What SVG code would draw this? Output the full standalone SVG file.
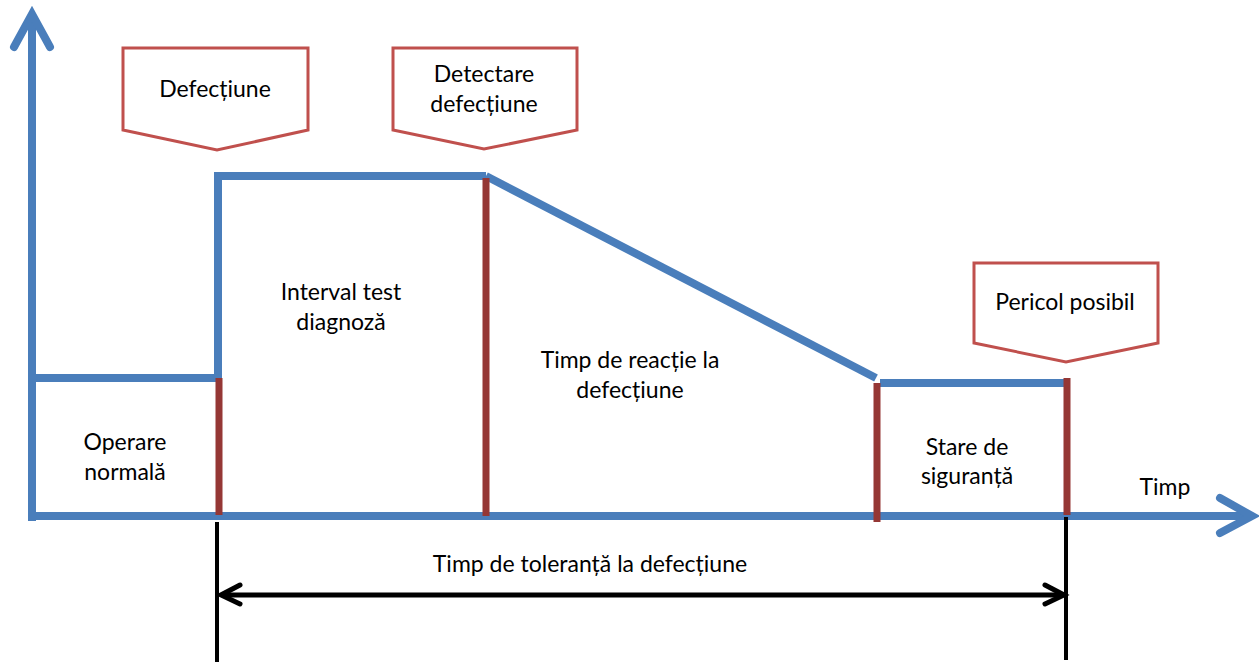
<svg xmlns="http://www.w3.org/2000/svg" width="1259" height="662" viewBox="0 0 1259 662">
  <style>
    .txt { font-family: Lato, "Open Sans", "Liberation Sans", sans-serif; font-size: 23px; fill: #000; text-anchor: middle; }
    .blue { stroke: #4A7EBB; stroke-width: 8; fill: none; }
    .head { stroke: #4A7EBB; stroke-width: 8; fill: none; stroke-linecap: round; stroke-linejoin: miter; }
    .bar { stroke: #953735; stroke-width: 7; fill: none; }
    .tick { stroke: #000; stroke-width: 4; fill: none; }
    .dim { stroke: #000; stroke-width: 5; fill: none; }
    .dimhead { stroke: #000; stroke-width: 5; fill: none; stroke-linecap: round; }
    .callout { fill: #fff; stroke: #C0504D; stroke-width: 3; }
  </style>

  <g id="axes">
    <line class="blue" x1="32" y1="521" x2="32" y2="16"/>
    <polyline class="head" points="14,47 32,14 50,47"/>
    <line class="blue" x1="28" y1="516" x2="1250" y2="516"/>
    <polyline class="head" points="1220,498 1252,516 1220,533"/>
    <text class="txt" x="1165" y="495">Timp</text>
  </g>

  <g id="connectors">
    <!-- state level curve -->
    <line class="blue" x1="32" y1="378" x2="218" y2="378"/>
    <line class="blue" x1="218" y1="382" x2="218" y2="172"/>
    <line class="blue" x1="218" y1="176" x2="486" y2="176"/>
    <line class="blue" x1="486" y1="176" x2="876" y2="378"/>
    <line class="blue" x1="880" y1="383" x2="1066" y2="383"/>
    <!-- phase boundaries -->
    <line class="bar" x1="219" y1="378" x2="219" y2="515"/>
    <line class="bar" x1="486" y1="178" x2="486" y2="516"/>
    <line class="bar" x1="877" y1="383" x2="877" y2="522"/>
    <line class="bar" x1="1067" y1="378" x2="1067" y2="515"/>
    <!-- tolerance interval -->
    <line class="tick" x1="217" y1="522" x2="217" y2="662"/>
    <line class="tick" x1="1066" y1="517" x2="1066" y2="660"/>
    <line class="dim" x1="222" y1="595" x2="1062" y2="595"/>
    <polyline class="dimhead" points="240,585 221,595 240,604"/>
    <polyline class="dimhead" points="1045,585 1064,595 1045,604"/>
  </g>

  <g id="callout-defectiune">
    <polygon class="callout" points="123,48 308,48 308,130 217,150 123,130"/>
    <text class="txt" x="215" y="97">Defecțiune</text>
  </g>

  <g id="callout-detectare">
    <polygon class="callout" points="393,48 577,48 577,130 484,149 393,130"/>
    <text class="txt" x="484" y="82">Detectare</text>
    <text class="txt" x="484" y="112">defecțiune</text>
  </g>

  <g id="callout-pericol">
    <polygon class="callout" points="974,263 1158,263 1158,343 1066,362 974,343"/>
    <text class="txt" x="1065" y="310">Pericol posibil</text>
  </g>

  <g id="phase-operare">
    <text class="txt" x="125" y="450">Operare</text>
    <text class="txt" x="125" y="480">normală</text>
  </g>

  <g id="phase-interval">
    <text class="txt" x="341" y="300">Interval test</text>
    <text class="txt" x="341" y="330">diagnoză</text>
  </g>

  <g id="phase-reactie">
    <text class="txt" x="630" y="368">Timp de reacție la</text>
    <text class="txt" x="630" y="398">defecțiune</text>
  </g>

  <g id="phase-siguranta">
    <text class="txt" x="967" y="455">Stare de</text>
    <text class="txt" x="967" y="484">siguranță</text>
  </g>

  <g id="tolerance-label">
    <text class="txt" x="590" y="572">Timp de toleranță la defecțiune</text>
  </g>
</svg>
